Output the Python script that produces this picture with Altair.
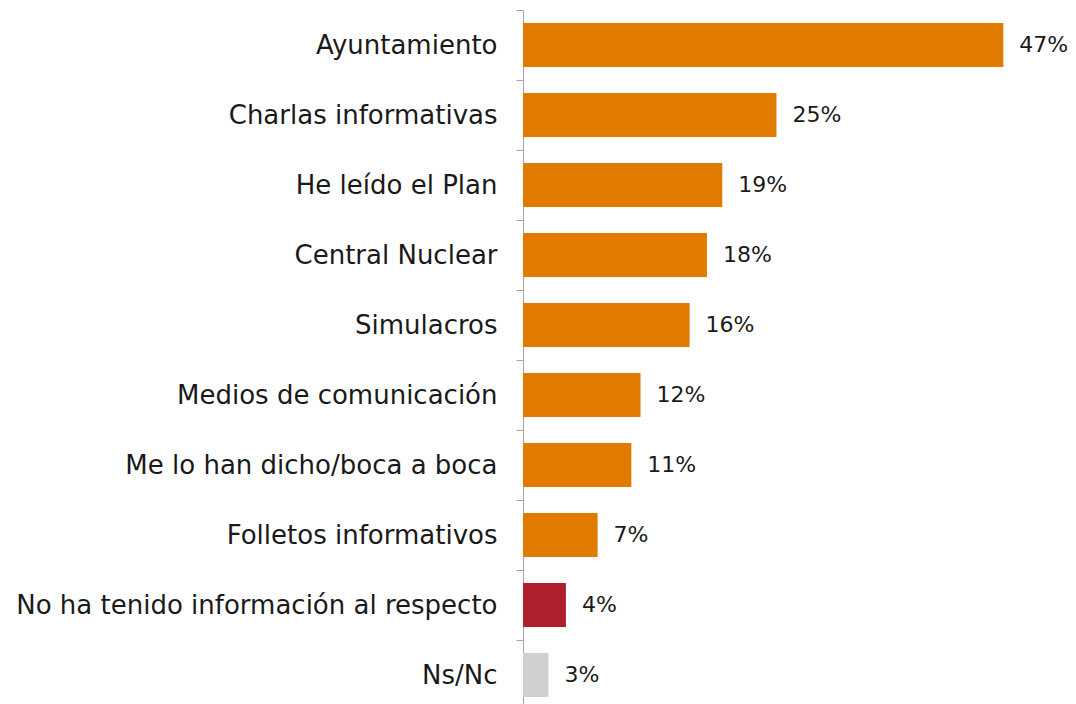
import altair as alt
import pandas as pd

categories = [
    "Ayuntamiento",
    "Charlas informativas",
    "He leído el Plan",
    "Central Nuclear",
    "Simulacros",
    "Medios de comunicación",
    "Me lo han dicho/boca a boca",
    "Folletos informativos",
    "No ha tenido información al respecto",
    "Ns/Nc",
]
values = [47.0, 24.8, 19.5, 18.0, 16.3, 11.5, 10.6, 7.3, 4.2, 2.5]
labels = ["47%", "25%", "19%", "18%", "16%", "12%", "11%", "7%", "4%", "3%"]
groups = ["info", "info", "info", "info", "info", "info", "info", "info", "none", "nsnc"]

df = pd.DataFrame({"cat": categories, "val": values, "label": labels, "grp": groups})

FONT = "DejaVu Sans"

y_enc = alt.Y(
    "cat:N",
    sort=categories,
    title=None,
    scale=alt.Scale(paddingInner=0, paddingOuter=0),
    axis=alt.Axis(
        tickBand="extent",
        tickSize=7,
        tickColor="#A6A6A6",
        domainColor="#A6A6A6",
        labelPadding=19,
        labelFont=FONT,
        labelFontSize=26,
        labelColor="#1a1a1a",
        labelLimit=600,
    ),
)
x_enc = alt.X("val:Q", scale=alt.Scale(domain=[0, 50]), axis=None)

bars = alt.Chart(df).mark_bar(size=44, cornerRadius=0).encode(
    y=y_enc,
    x=x_enc,
    color=alt.Color(
        "grp:N",
        scale=alt.Scale(domain=["info", "none", "nsnc"], range=["#E07B00", "#B01F2E", "#D0D0D0"]),
        legend=None,
    ),
)

text = alt.Chart(df).mark_text(
    align="left", baseline="middle", dx=16, font=FONT, fontSize=22, color="#1a1a1a"
).encode(y=alt.Y("cat:N", sort=categories), x="val:Q", text="label:N")

chart = (
    alt.layer(bars, text)
    .properties(
        width=511,
        height=700,
        background="white",
        autosize=alt.AutoSizeParams(type="none"),
        padding={"left": 515, "top": 2, "right": 34, "bottom": 0},
    )
    .configure_view(stroke=None)
)

chart.save("out.html", embed_options={"renderer": "svg", "actions": False})
